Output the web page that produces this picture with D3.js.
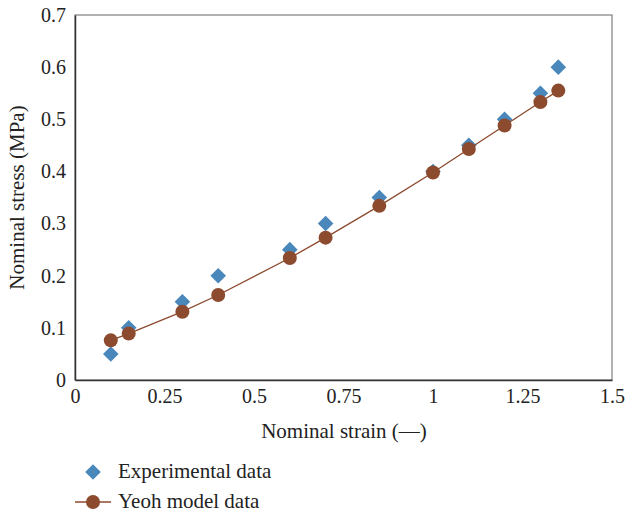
<!DOCTYPE html>
<html>
<head>
<meta charset="utf-8">
<script src="https://cdn.jsdelivr.net/npm/d3@7"></script>
<style>
  body { margin: 0; background: #fff; }
  text { font-family: "Liberation Serif", "DejaVu Serif", serif; fill: #222; }
</style>
</head>
<body>
<svg id="chart" width="625" height="516"></svg>
<script>
// strain values and stresses
var strain = [0.1, 0.15, 0.3, 0.4, 0.6, 0.7, 0.85, 1.0, 1.1, 1.2, 1.3, 1.35];
var expStress = [0.05, 0.1, 0.15, 0.2, 0.25, 0.3, 0.35, 0.4, 0.45, 0.5, 0.55, 0.6];
var yeohStress = [0.076, 0.089, 0.131, 0.163, 0.234, 0.273, 0.334, 0.398, 0.443, 0.488, 0.533, 0.555];
var xTicks = [0, 0.25, 0.5, 0.75, 1, 1.25, 1.5];
var yTicks = [0, 0.1, 0.2, 0.3, 0.4, 0.5, 0.6, 0.7];
var seriesNames = ["Experimental data", "Yeoh model data"];

var blue = "#4a87ba", brown = "#8c4a2e";
var svg = d3.select("#chart");
var pLeft = 75, pRight = 612, pTop = 15, pBottom = 380;

var x = d3.scaleLinear().domain([0, 1.5]).range([pLeft, pRight]);
var y = d3.scaleLinear().domain([0, 0.7]).range([pBottom, pTop]);

// frame
svg.append("rect").attr("x", pLeft).attr("y", pTop)
  .attr("width", pRight - pLeft).attr("height", pBottom - pTop)
  .attr("fill", "none").attr("stroke", "#666").attr("stroke-width", 1);

var xaxis = d3.axisBottom(x).tickValues(xTicks).tickSize(0).tickPadding(9)
  .tickFormat(function(d){ return String(d); });
var yaxis = d3.axisLeft(y).tickValues(yTicks).tickSize(0).tickPadding(9)
  .tickFormat(function(d){ return d === 0 ? "0" : d3.format(".1f")(d); });

var gx = svg.append("g").attr("transform", "translate(0," + pBottom + ")").call(xaxis);
var gy = svg.append("g").attr("transform", "translate(" + pLeft + ",0)").call(yaxis);
[gx, gy].forEach(function(g){
  g.select(".domain").attr("stroke", "#333").attr("stroke-width", 1.5);
  g.selectAll("text").attr("font-size", 20).attr("font-family", "Liberation Serif, serif").attr("fill", "#222");
});

svg.append("text").attr("x", 344).attr("y", 438)
  .attr("text-anchor", "middle").attr("font-size", 21).text("Nominal strain (—)");
svg.append("text").attr("transform", "translate(24," + ((pTop + pBottom) / 2) + ") rotate(-90)")
  .attr("text-anchor", "middle").attr("font-size", 21).text("Nominal stress (MPa)");

var diamond = d3.symbol().type(d3.symbolDiamond2).size(155);

// experimental diamonds
svg.append("g").selectAll("path").data(strain).enter().append("path")
  .attr("d", diamond)
  .attr("transform", function(d, i){ return "translate(" + x(d) + "," + y(expStress[i]) + ")"; })
  .attr("fill", blue);

// yeoh line + circles
var line = d3.line().x(function(d){ return x(d[0]); }).y(function(d){ return y(d[1]); });
svg.append("path").datum(strain.map(function(d, i){ return [d, yeohStress[i]]; }))
  .attr("d", line).attr("fill", "none").attr("stroke", brown).attr("stroke-width", 1.3);
svg.append("g").selectAll("circle").data(strain).enter().append("circle")
  .attr("cx", function(d){ return x(d); })
  .attr("cy", function(d, i){ return y(yeohStress[i]); })
  .attr("r", 7).attr("fill", brown);

// legend
var lg = svg.append("g");
lg.append("path").attr("d", diamond).attr("transform", "translate(93,472)").attr("fill", blue);
lg.append("text").attr("x", 118).attr("y", 478).attr("font-size", 21).text(seriesNames[0]);
lg.append("line").attr("x1", 75).attr("x2", 111).attr("y1", 502).attr("y2", 502)
  .attr("stroke", brown).attr("stroke-width", 1.3);
lg.append("circle").attr("cx", 93).attr("cy", 502).attr("r", 7).attr("fill", brown);
lg.append("text").attr("x", 118).attr("y", 508).attr("font-size", 21).text(seriesNames[1]);
</script>
</body>
</html>
